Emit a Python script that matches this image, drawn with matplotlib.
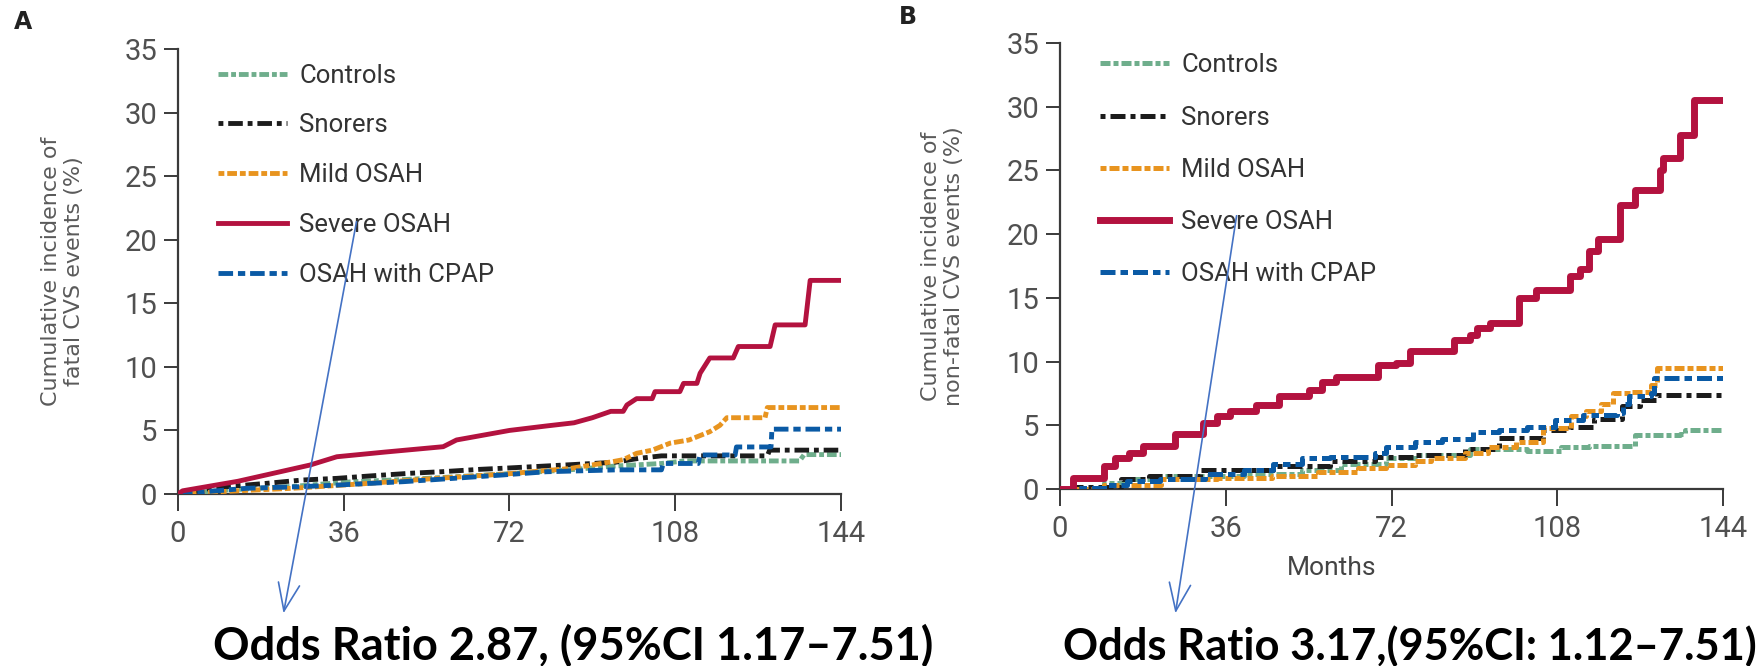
import matplotlib
matplotlib.use("Agg")
import matplotlib.pyplot as plt
from matplotlib.patches import FancyArrowPatch

plt.rcParams['font.family'] = ['Roboto', 'DejaVu Sans']

# ---- data, panel A (fatal CVS events) ----
a_sev_m = [0, 1, 13, 28.7, 34.5, 45, 57.6, 60.5, 72, 80, 86, 90, 94, 96.7, 97.5, 99.6, 103, 103.6, 109, 109.8,
           112.7, 113.4, 115.5, 120.6, 121.7, 128.6, 129.7, 136.2, 137.3, 144]
a_sev_v = [0, 0.25, 1.0, 2.28, 2.93, 3.3, 3.72, 4.25, 5.0, 5.35, 5.6, 6.0, 6.5, 6.5, 7.0, 7.5, 7.5, 8.05, 8.05, 8.7,
           8.7, 9.5, 10.7, 10.7, 11.6, 11.6, 13.3, 13.3, 16.8, 16.8]
a_mild_m = [0, 10, 25, 40, 55, 72, 85, 94.5, 96.7, 99.6, 103, 106.9, 111, 115.5, 117.7, 119.2, 127.5, 128, 144]
a_mild_v = [0, 0.2, 0.45, 0.8, 1.2, 1.6, 2.0, 2.55, 2.7, 3.2, 3.45, 4.0, 4.25, 4.9, 5.4, 6.0, 6.0, 6.8, 6.8]
a_cpap_m = [0, 15, 27, 34.5, 49, 59.8, 70.6, 80, 95.3, 105, 105.4, 113, 113.4, 121, 121.3, 128.8, 129, 144]
a_cpap_v = [0, 0.45, 0.58, 0.7, 0.97, 1.23, 1.5, 1.75, 1.9, 1.9, 2.4, 2.4, 3.07, 3.07, 3.7, 3.7, 5.1, 5.1]
a_snor_m = [0, 8, 19.3, 27, 34.5, 41.7, 50.4, 57.6, 65.6, 72, 85, 95, 100, 105, 128, 128.5, 144]
a_snor_v = [0, 0.5, 0.84, 1.1, 1.23, 1.42, 1.63, 1.76, 1.94, 2.05, 2.3, 2.5, 2.8, 3.0, 3.0, 3.45, 3.45]
a_ctrl_m = [0, 10, 25, 38, 50, 60, 72, 85, 95, 105, 110, 135, 136, 144]
a_ctrl_v = [0, 0.3, 0.6, 0.97, 1.15, 1.35, 1.6, 1.9, 2.2, 2.4, 2.6, 2.6, 3.1, 3.1]

# ---- data, panel B (non-fatal CVS events) ----
b_sev_m = [0, 2.5, 2.8, 8.3, 9.6, 12, 15, 18, 23, 25, 29, 31, 34, 37, 42.6, 47.5, 54, 57, 60, 67.8, 69, 73, 76,
           84, 85.5, 89, 90.5, 93.5, 98.4, 99.6, 103.3, 109.4, 110.7, 113, 115, 116.8, 120.5, 121.7, 124.8,
           129.7, 130.3, 131, 134, 134.6, 137, 137.6, 144]
b_sev_v = [0, 0, 0.9, 0.9, 1.8, 2.4, 2.85, 3.4, 3.4, 4.3, 4.3, 5.2, 5.7, 6.1, 6.6, 7.3, 7.8, 8.4, 8.8, 8.8, 9.7,
           9.9, 10.8, 10.8, 11.7, 12.1, 12.6, 13.0, 13.0, 15.0, 15.6, 15.6, 16.7, 17.3, 18.7, 19.6, 19.6, 22.3,
           23.5, 23.5, 25.0, 26.0, 26.0, 27.8, 27.8, 30.5, 30.5]
b_mild_m = [0, 1, 9.6, 22, 34, 46, 56, 64.7, 70.8, 77, 80.6, 88, 93, 99, 105, 111, 114.3, 117.4, 120, 124, 128.4,
            129.7, 144]
b_mild_v = [0, 0, 0.3, 0.75, 0.9, 1.05, 1.35, 1.65, 1.9, 2.2, 2.4, 2.8, 3.3, 3.7, 4.8, 5.7, 6.1, 6.7, 7.5, 7.6,
            8.2, 9.5, 9.5]
b_cpap_m = [0, 3.4, 9.6, 14.5, 21.8, 31.6, 40, 46.3, 52.5, 58.6, 68.4, 70.8, 77, 83, 89.8, 95.3, 101.5, 107.6,
            113.7, 121, 122.3, 123.5, 128.4, 129, 144]
b_cpap_v = [0, 0.1, 0.3, 0.6, 0.75, 1.2, 1.5, 1.95, 2.4, 2.5, 2.85, 3.3, 3.7, 3.9, 4.5, 4.6, 4.9, 5.4, 5.8, 6.0,
            6.7, 7.3, 7.5, 8.7, 8.7]
b_snor_m = [0, 3.4, 13.2, 19.4, 30.4, 46.3, 58.6, 68.4, 77, 88, 95.3, 105, 110.7, 116, 122, 126, 129.7, 144]
b_snor_v = [0, 0.15, 0.75, 1.05, 1.5, 1.8, 2.2, 2.5, 2.7, 3.1, 4.0, 4.6, 4.9, 5.5, 6.5, 7.0, 7.4, 7.4]
b_ctrl_m = [0, 9.6, 14.5, 21.8, 40, 52.5, 61, 70.8, 78, 89, 95.3, 101.5, 108.8, 115, 123.5, 124.8, 134.6, 135.8, 144]
b_ctrl_v = [0, 0.45, 0.75, 1.05, 1.2, 1.5, 1.95, 2.4, 2.7, 3.1, 3.1, 3.0, 3.3, 3.4, 3.4, 4.2, 4.3, 4.6, 4.6]

xticks = [0, 36, 72, 108, 144]
yticks = [0, 5, 10, 15, 20, 25, 30, 35]
group_names = ['Controls', 'Snorers', 'Mild OSAH', 'Severe OSAH', 'OSAH with CPAP']
odds_a = 'Odds Ratio 2.87, (95%CI 1.17\u20137.51)'
odds_b = 'Odds Ratio 3.17,(95%CI: 1.12\u20137.51)'

colors = {'Controls': '#6fae8c', 'Snorers': '#1c1c1c', 'Mild OSAH': '#e8941f',
          'Severe OSAH': '#b3123f', 'OSAH with CPAP': '#0a5aa5'}
dashes = {'Controls': (0, (2, 0.6, 1, 0.6)), 'Snorers': (0, (1, 1, 3, 1)),
          'Mild OSAH': (0, (1.2, 0.6, 2, 0.6)), 'Severe OSAH': '-',
          'OSAH with CPAP': (0, (3, 1, 1.5, 1))}

W, H = 1762, 666
fig = plt.figure(figsize=(W / 100, H / 100), dpi=100)


def setup(ax, ylabel, lx):
    ax.set_xlim(0, 144)
    ax.set_ylim(0, 35)
    ax.set_xticks(xticks)
    ax.set_yticks(yticks)
    for s in ['top', 'right']:
        ax.spines[s].set_visible(False)
    for s in ['left', 'bottom']:
        ax.spines[s].set_color('#3a3a3a')
        ax.spines[s].set_linewidth(1.6)
    ax.tick_params(axis='both', direction='out', color='#3a3a3a', width=1.4,
                   labelsize=21, labelcolor='#505050')
    ax.tick_params(axis='x', length=12, pad=7)
    ax.tick_params(axis='y', length=10, pad=5)
    ax.set_ylabel(ylabel, fontsize=16, color='#5a5a5a', family='DejaVu Sans', linespacing=1.15)
    ax.yaxis.set_label_coords(lx, 0.5)


def draw(ax, data, lw, sev_lw, step):
    for name, (m, v) in zip(group_names, data):
        w = sev_lw if name == 'Severe OSAH' else lw
        ax.plot(m, v, color=colors[name], linestyle=dashes[name], lw=w,
                drawstyle='steps-post' if step else 'default', label=name,
                zorder=4 if name == 'Severe OSAH' else 3)


axA = fig.add_axes([178 / W, 1 - 494 / H, 663 / W, 445 / H])
axB = fig.add_axes([1060 / W, 1 - 489 / H, 663 / W, 446 / H])

draw(axA, [(a_ctrl_m, a_ctrl_v), (a_snor_m, a_snor_v), (a_mild_m, a_mild_v),
           (a_sev_m, a_sev_v), (a_cpap_m, a_cpap_v)], 3.5, 3.5, False)
draw(axB, [(b_ctrl_m, b_ctrl_v), (b_snor_m, b_snor_v), (b_mild_m, b_mild_v),
           (b_sev_m, b_sev_v), (b_cpap_m, b_cpap_v)], 3.6, 5, True)

setup(axA, 'Cumulative incidence of\nfatal CVS events (%)', -0.142)
setup(axB, 'Cumulative incidence of\nnon-fatal CVS events (%)', -0.145)
axB.text(0.41, -0.177, 'Months', transform=axB.transAxes, ha='center', va='center',
         fontsize=19, color='#444444')

for ax, anchor, sp in [(axA, (0.045, 0.99), 1.0), (axB, (0.045, 1.0), 1.1)]:
    ax.legend(loc='upper left', bbox_to_anchor=anchor, frameon=False, fontsize=18.5,
              labelcolor='#333333', handlelength=2.7, handletextpad=0.45, labelspacing=sp,
              borderaxespad=0)

fig.text(14 / W, 1 - 22 / H, 'A', fontsize=17, fontweight='bold', color='#222222',
         family='DejaVu Sans', va='center')
fig.text(899 / W, 1 - 17 / H, 'B', fontsize=17, fontweight='bold', color='#222222',
         family='DejaVu Sans', va='center')

fig.text(213 / W, 1 - 646 / H, odds_a, fontsize=32.5, fontweight='bold',
         family=['Lato', 'DejaVu Sans'], va='center', ha='left')
fig.text(1063 / W, 1 - 646 / H, odds_b, fontsize=31.3, fontweight='bold',
         family=['Lato', 'DejaVu Sans'], va='center', ha='left')

for start, end in [((357, 219), (283, 616)), ((1237, 213), (1175, 616))]:
    arr = FancyArrowPatch((start[0] / W, 1 - start[1] / H), (end[0] / W, 1 - end[1] / H),
                          transform=fig.transFigure, arrowstyle='->,head_length=0.9,head_width=0.35',
                          mutation_scale=22, color='#4472c4', lw=1.2, zorder=10)
    fig.add_artist(arr)

fig.savefig('out.png', dpi=100)
